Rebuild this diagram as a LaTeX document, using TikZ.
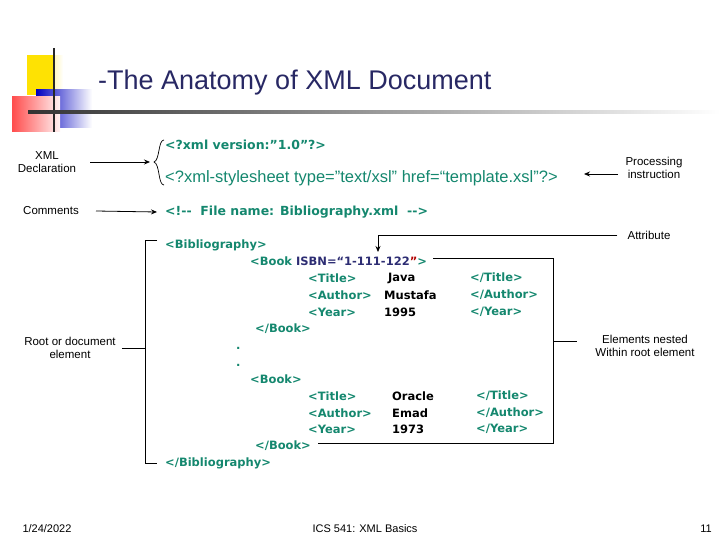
\documentclass[tikz,border=0pt]{standalone}
\usepackage{fontspec}
\setmainfont{Liberation Sans}
\newfontfamily\codef{DejaVu Sans}
\usetikzlibrary{arrows.meta,fadings}
\definecolor{teal1}{RGB}{20,135,110}
\definecolor{navy1}{RGB}{45,45,115}
\definecolor{ttl}{RGB}{40,40,100}
\tikzset{
 lbl/.style={font=\fontsize{11.5}{12.5}\selectfont, align=center, inner sep=0pt},
 code/.style={font=\codef\bfseries\fontsize{11.5}{12}\selectfont, text=teal1, anchor=west, inner sep=0pt},
 val/.style={font=\codef\bfseries\fontsize{11.5}{12}\selectfont, text=black, anchor=west, inner sep=0pt},
 conn/.style={line width=0.8pt},
 arr/.style={line width=0.8pt,-{Stealth[length=6pt,width=5pt]}},
 foot/.style={font=\fontsize{11}{12}\selectfont, inner sep=0pt}
}
\begin{document}
\begin{tikzpicture}[x=1pt,y=-1pt]
\useasboundingbox (0,0) rectangle (720,540);
% logo
\fill[yellow!85!orange, path fading=east] (27,55) rectangle (63,95);
\fill[yellow!85!orange] (27,55) rectangle (54,95);
\shade[left color=blue!75!black, right color=white] (36,90) rectangle (92,128);
\shade[left color=red!70, right color=red!5] (12,97) rectangle (60,132);
\draw[line width=1.5pt, black!85] (54,48) -- (54,132);
\shade[left color=black!80, right color=white] (28,110.5) rectangle (720,113.5);
\node[anchor=west, text=ttl, font=\fontsize{27}{30}\selectfont, inner sep=0pt] (title) at (98,83) {-The Anatomy of XML Document};
% labels
\node[lbl] (decl) at (47,162) {XML\\Declaration};
\node[lbl] (comm) at (51,211) {Comments};
\node[lbl] (proc) at (654,168) {Processing\\instruction};
\node[lbl] (attr) at (649,235) {Attribute};
\node[lbl] (root) at (70,348) {Root or document\\element};
\node[lbl] (nest) at (645,346) {Elements nested\\Within root element};
% code
\node[code, font=\codef\bfseries\fontsize{12.5}{13}\selectfont] (c1) at (165,145) {<?xml version:”1.0”?>};
\node[anchor=west, inner sep=0pt, text=teal1, font=\fontsize{16.5}{18}\selectfont] (c2) at (165,178) {<?xml-stylesheet type="text/xsl" href=“template.xsl"?>};
\node[code, font=\codef\bfseries\fontsize{12.5}{13}\selectfont] (c3) at (165,212) {<!-{}-\ \ File name: Bibliography.xml\ \ -{}->};
\node[code] (bib) at (165,245) {<Bibliography>};
\node[code] (book1) at (250,261) {<Book \textcolor{navy1}{ISBN=“1-111-122}\textcolor{red!70!black}{”}>};
\node[code] (t1) at (308,278) {<Title>};
\node[val] (v1) at (388,278) {Java};
\node[code] (e1) at (470,278) {</Title>};
\node[code] (a1) at (308,295) {<Author>};
\node[val] (v2) at (384,295) {Mustafa};
\node[code] (e2) at (470,295) {</Author>};
\node[code] (y1) at (308,312) {<Year>};
\node[val] (v3) at (384,312) {1995};
\node[code] (e3) at (470,312) {</Year>};
\node[code] (eb1) at (255,329) {</Book>};
\node[code] (d1) at (236,348) {.};
\node[code] (d2) at (236,365) {.};
\node[code] (book2) at (250,379) {<Book>};
\node[code] (t2) at (308,396) {<Title>};
\node[val] (w1) at (392,396) {Oracle};
\node[code] (f1) at (476,396) {</Title>};
\node[code] (a2) at (308,413) {<Author>};
\node[val] (w2) at (392,413) {Emad};
\node[code] (f2) at (476,413) {</Author>};
\node[code] (y2) at (308,429) {<Year>};
\node[val] (w3) at (392,429) {1973};
\node[code] (f3) at (476,429) {</Year>};
\node[code] (eb2) at (255,446) {</Book>};
\node[code] (ebib) at (165,463) {</Bibliography>};
% brace
\draw[line width=0.7pt] (164,140) .. controls (158,140) and (160,160) .. (154,162) .. controls (160,164) and (158,185) .. (164,185);
\coordinate (brace) at (150,162);
\draw[arr] (90,162) -- (brace);
\draw[arr] (96,211) -- ([xshift=-8pt]c3.west);
\coordinate (pend) at (584,174);
\draw[arr] (618,174) -- (pend);
% attribute
\coordinate (at1) at (378,235);
\coordinate (at2) at (378,252);
\draw[conn] (attr.west) ++(-10,0) -- (at1);
\draw[arr] (at1) -- (at2);
% root bracket
\coordinate (rb1) at (145,240);
\coordinate (rb2) at (145,463);
\draw[conn] (157,240) -- (rb1) -- (rb2) -- (157,463);
\draw[conn] (root.east) ++(6,0) -- (145,348);
% nested bracket
\draw[conn] (book1.east) ++(6,-3) -- (553,258) -- (553,443) -- (318,443);
\draw[conn] (553,341) -- (577,341);
% footer
\node[foot] (date) at (47,529) {1/24/2022};
\node[foot] (course) at (365,529) {ICS 541: XML Basics};
\node[foot] (page) at (706,529) {11};
\end{tikzpicture}
\end{document}
